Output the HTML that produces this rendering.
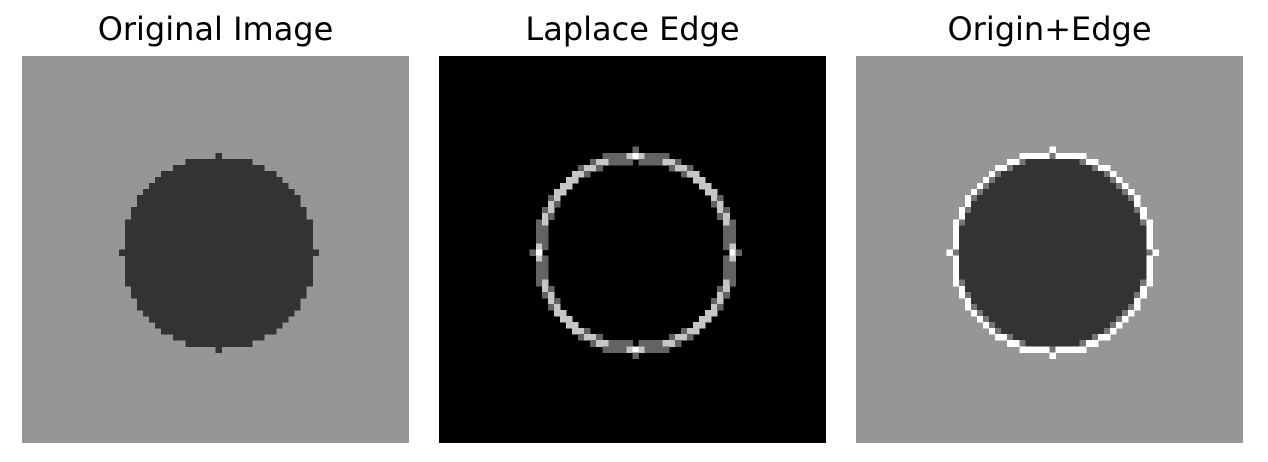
<!DOCTYPE html>
<html><head><meta charset="utf-8"><style>
body{margin:0;background:#fff;width:1268px;height:458px;overflow:hidden;font-family:"DejaVu Sans","Liberation Sans",sans-serif}
</style></head><body>
<svg id="fig" width="1268" height="458" shape-rendering="crispEdges"></svg>
<script>
const imageSize = [64];
const circleCenter = [32, 32];
const circleRadius = [16];
const grayLevels = [150, 51];
const panelTitles = ["Original Image", "Laplace Edge", "Origin+Edge"];
const edgeScale = [99];
const innerEdgeGray = [118];

const NS = "http://www.w3.org/2000/svg";
const svg = document.getElementById('fig');
const N = imageSize[0], px = 387 / N;
const offs = [22, 439, 856], top0 = 56;

function inside(x, y){ const dx = x - circleCenter[0], dy = y - circleCenter[1]; return dx*dx + dy*dy <= circleRadius[0]*circleRadius[0]; }
function lap(x, y){
  const v = (a,b)=> inside(a,b) ? 0 : 1;
  return v(x-1,y)+v(x+1,y)+v(x,y-1)+v(x,y+1)-4*v(x,y);
}
function rect(g, x, y, w, h, fill, name){
  const r = document.createElementNS(NS, 'rect');
  r.setAttribute('x', x); r.setAttribute('y', y); r.setAttribute('width', w); r.setAttribute('height', h);
  r.setAttribute('fill', fill);
  
  
  g.appendChild(r);
}
const g = (v)=>`rgb(${v},${v},${v})`;
for (let p = 0; p < 3; p++){
  const grp = document.createElementNS(NS, 'g');
  
  
  svg.appendChild(grp);
  const t = document.createElementNS(NS, 'text');
  t.setAttribute('x', offs[p] + 193.5); t.setAttribute('y', 40);
  t.setAttribute('text-anchor', 'middle'); t.setAttribute('font-size', '32');
  t.setAttribute('fill', '#000');
  t.textContent = panelTitles[p];
  
  
  grp.appendChild(t);
  rect(grp, offs[p], top0, 387, 387, p === 1 ? '#000' : g(grayLevels[0]), 'image-background');
  for (let y = 0; y < N; y++) for (let x = 0; x < N; x++){
    const X = offs[p] + x*px, Y = top0 + y*px;
    const L = lap(x, y);
    const A = Math.abs(L), ins = inside(x, y);
    if (p === 0){ if (ins) rect(grp, X, Y, px+0.5, px+0.5, g(grayLevels[1]), 'image-pixel'); }
    else if (p === 1){ if (A > 0) rect(grp, X, Y, px+0.5, px+0.5, g(Math.min(255, A*edgeScale[0])), 'edge-pixel'); }
    else {
      if (!ins && A > 0) rect(grp, X, Y, px+0.5, px+0.5, '#fff', 'edge-pixel');
      else if (ins && A >= 2) rect(grp, X, Y, px+0.5, px+0.5, g(innerEdgeGray[0]), 'edge-pixel');
      else if (ins) rect(grp, X, Y, px+0.5, px+0.5, g(grayLevels[1]), 'image-pixel');
    }
  }
}
</script>
</body></html>
